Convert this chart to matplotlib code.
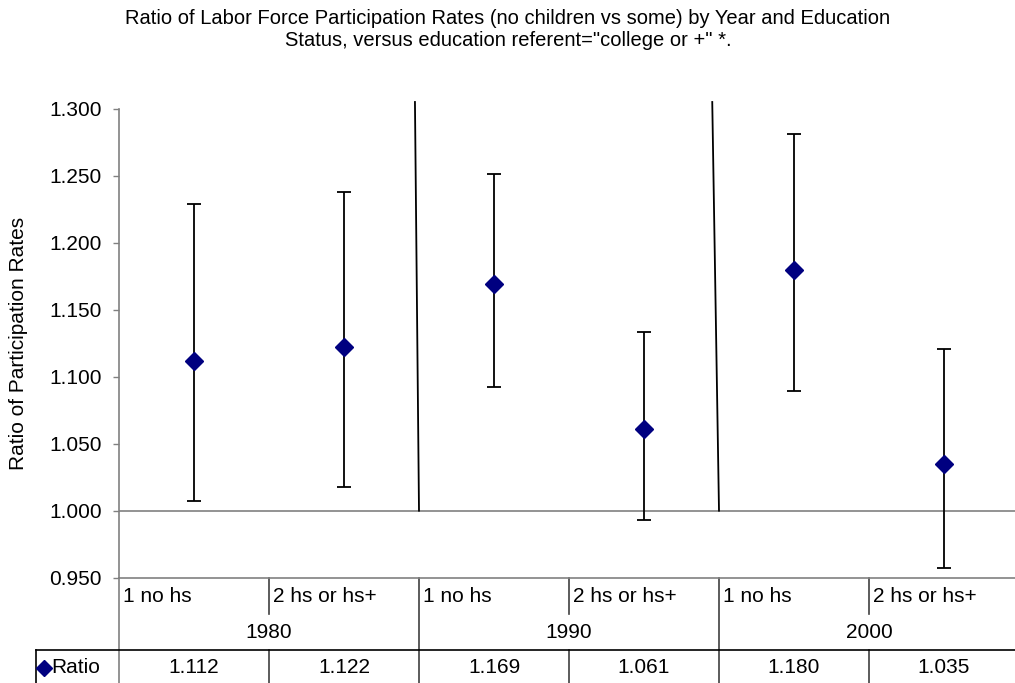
import matplotlib
matplotlib.use('Agg')
from matplotlib import pyplot as plt
from matplotlib.transforms import blended_transform_factory

plt.rcParams['font.family'] = ['Liberation Sans', 'DejaVu Sans']

# values
years = ['1980', '1990', '2000']
education = ['1 no hs', '2 hs or hs+']
ratio = [1.112, 1.122, 1.169, 1.061, 1.180, 1.035]
ci_low = [1.007, 1.018, 1.092, 0.993, 1.089, 0.957]
ci_high = [1.229, 1.238, 1.251, 1.133, 1.281, 1.121]
y_ticks = [0.95, 1.00, 1.05, 1.10, 1.15, 1.20, 1.25, 1.30]

# slanted group dividers drawn as a series in the original
divider_bottom_x = [1.5, 3.5]
divider_top_x = [1.473, 3.455]
divider_y = [1.000, 1.305]

title_lines = ['Ratio of Labor Force Participation Rates (no children vs some) by Year and Education',
               'Status, versus education referent="college or +" *.']

W, H = 1015, 683
fig = plt.figure(figsize=(W / 100, H / 100), dpi=100)
ax = fig.add_axes([119 / W, (H - 577.7) / H, 900 / W, 469 / H])

n = len(ratio)
x = list(range(n))
err = [[r - lo for r, lo in zip(ratio, ci_low)], [hi - r for r, hi in zip(ratio, ci_high)]]

ax.axhline(1.0, color='#808080', lw=1.2, zorder=1)
for xb, xt in zip(divider_bottom_x, divider_top_x):
    ax.plot([xb, xt], divider_y, color='black', lw=1.3, clip_on=False, zorder=2)

ax.errorbar(x, ratio, yerr=err, fmt='D', color='#000080', ms=9,
            ecolor='black', elinewidth=1.3, capsize=5, capthick=1.3, zorder=3)

ax.set_xlim(-0.5, n - 0.5)
ax.set_ylim(0.95, 1.30)
ax.set_yticks(y_ticks)
ax.set_yticklabels(['%.3f' % t for t in y_ticks], fontsize=15)
ax.tick_params(axis='y', length=4.5, width=1, color='#808080', pad=8)
ax.set_xticks([])
for s in ['top', 'right']:
    ax.spines[s].set_visible(False)
for s in ['left', 'bottom']:
    ax.spines[s].set_color('#808080')
    ax.spines[s].set_linewidth(1.2)

ax.set_ylabel('Ratio of Participation Rates', fontsize=15)
ax.yaxis.set_label_coords(-(119 - 28) / 900, 0.5)
for k, line in enumerate(title_lines):
    fig.text(508 / W, 1 - (19 + 22 * k) / H, line, ha='center', va='center', fontsize=14.5)

# data table under the axis
tr = blended_transform_factory(ax.transData, ax.transAxes)
px = 1 / 469.0
row1 = -36.6 * px
row2 = -72.5 * px
row3 = -110 * px
left_edge = -0.5 - 83 / 150.0

line_kw = dict(transform=tr, clip_on=False, lw=1.2)
# left spine runs down through the table
ax.plot([-0.5, -0.5], [0, row3], color='#808080', **line_kw)
for i in range(n):
    xl = i - 0.5
    if i % 2 == 1:
        ax.plot([xl, xl], [0, row1], color='#404040', **line_kw)
        ax.plot([xl, xl], [row2, row3], color='#404040', **line_kw)
    elif i > 0:
        ax.plot([xl, xl], [0, row3], color='#404040', **line_kw)
    ax.text(i - 0.476, -19 * px, education[i % 2], transform=tr, ha='left', va='center', fontsize=15)
    ax.text(i, -90 * px, '%.3f' % ratio[i], transform=tr, ha='center', va='center', fontsize=15)
for j, yr in enumerate(years):
    ax.text(2 * j + 0.5, -54.5 * px, yr, transform=tr, ha='center', va='center', fontsize=15)

ax.plot([left_edge, n - 0.5], [row2, row2], color='black', **line_kw)
ax.plot([left_edge, left_edge], [row2, row3], color='black', **line_kw)
ax.plot([left_edge + 0.05], [-90 * px], marker='D', color='#000080', ms=8,
        transform=tr, clip_on=False)
ax.text(left_edge + 0.1, -90 * px, 'Ratio', transform=tr, ha='left', va='center', fontsize=15)

fig.savefig('out.png', dpi=100)
